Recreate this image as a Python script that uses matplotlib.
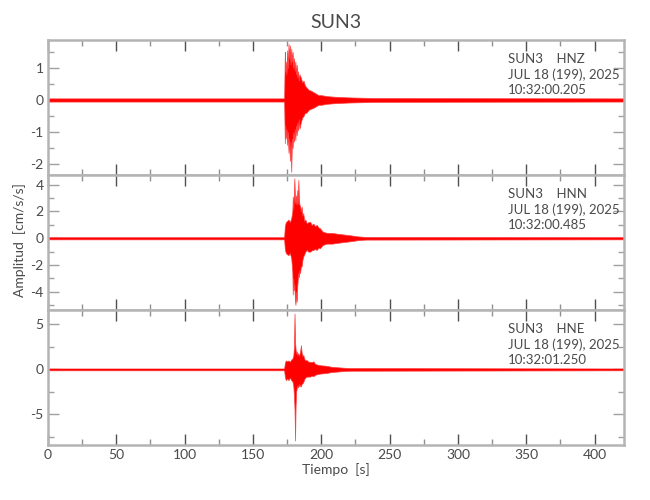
import matplotlib
matplotlib.use("Agg")
import matplotlib.pyplot as plt
from matplotlib.ticker import MultipleLocator
import numpy as np

plt.rcParams['font.family'] = ['Lato', 'DejaVu Sans']
plt.rcParams['axes.unicode_minus'] = False

# ---- data (envelopes) ----
channels = ["HNZ", "HNN", "HNE"]
start_times = ["10:32:00.205", "10:32:00.485", "10:32:01.250"]
station = "SUN3"
date_label = "JUL 18 (199), 2025"

t_hnz = [0, 172.8, 173.3, 173.6, 174.0, 174.5, 175.0, 175.5, 176.0, 176.5, 177.0, 177.5,
         178.0, 178.5, 179.0, 179.5, 180.0, 180.5, 181.0, 181.5, 182.0, 182.5, 183.0, 183.5,
         184.0, 185.0, 186.0, 187.0, 188.0, 189.0, 190.0, 191.0, 192.0, 194.0, 196.0, 198.0,
         200.0, 204.0, 210.0, 220.0, 240.0, 421]
up_hnz = [0.05, 0.05, 1.5, 0.9, 1.2, 0.8, 1.55, 1.0, 1.75, 1.3, 1.7, 1.1, 1.6, 1.2, 1.5, 1.0,
          1.3, 0.9, 1.2, 0.8, 1.1, 0.7, 0.9, 0.6, 0.8, 0.7, 0.55, 0.6, 0.45, 0.4, 0.35, 0.3,
          0.3, 0.25, 0.2, 0.15, 0.15, 0.12, 0.1, 0.08, 0.06, 0.05]
lo_hnz = [-0.05, -0.05, -1.35, -0.8, -1.2, -0.9, -1.4, -1.0, -1.65, -1.2, -1.9, -1.3, -2.24,
          -1.2, -1.5, -1.0, -1.3, -0.9, -1.25, -0.8, -1.1, -0.7, -0.95, -0.6, -0.9, -0.7, -0.55,
          -0.5, -0.4, -0.4, -0.35, -0.3, -0.28, -0.25, -0.2, -0.15, -0.15, -0.12, -0.1, -0.08,
          -0.06, -0.05]

t_hnn = [0, 172.8, 173.3, 174, 175, 176, 177, 178, 178.8, 179.1, 179.5, 180.0, 180.3, 180.7,
         181.1, 181.5, 182.0, 182.4, 182.8, 183.2, 183.6, 184.0, 184.5, 185.0, 185.6, 186.2,
         186.8, 187.5, 188.3, 189.3, 190.5, 191.7, 193.0, 194.2, 195.4, 196.6, 198.0, 199.0,
         201.0, 204.0, 208.0, 211.0, 215.0, 219.0, 223.0, 226.0, 232.0, 421]
up_hnn = [0.08, 0.08, 0.9, 1.2, 1.3, 1.4, 1.2, 1.5, 2.0, 3.1, 2.2, 3.5, 4.48, 3.0, 2.6, 3.2,
          2.5, 3.6, 2.6, 4.35, 3.0, 2.5, 2.4, 2.0, 2.36, 1.7, 1.87, 1.3, 1.4, 1.12, 1.2, 1.24,
          1.0, 1.1, 0.9, 1.0, 0.8, 0.75, 0.5, 0.4, 0.4, 0.35, 0.3, 0.25, 0.2, 0.15, 0.1, 0.08]
lo_hnn = [-0.08, -0.08, -0.8, -1.1, -1.2, -1.25, -1.1, -1.5, -2.5, -4.2, -3.0, -3.86, -3.5,
          -4.6, -4.97, -4.0, -4.73, -3.6, -3.0, -2.6, -2.9, -2.4, -2.6, -2.1, -2.1, -1.6,
          -1.37, -1.2, -1.0, -0.87, -1.0, -1.0, -0.9, -0.87, -0.8, -0.87, -0.7, -0.75, -0.5,
          -0.4, -0.4, -0.35, -0.3, -0.25, -0.2, -0.15, -0.1, -0.08]

t_hne = [0, 172.8, 173.3, 174, 175, 176, 177, 178, 178.8, 179.5, 180.0, 180.4, 180.8, 181.2,
         181.6, 182.0, 182.5, 183.0, 183.5, 184.0, 184.5, 185.1, 185.6, 186.2, 186.8, 187.5,
         188.3, 189.3, 190.5, 191.7, 193.0, 194.2, 195.5, 197.8, 200.0, 203.9, 207.0, 211.0,
         215.0, 220.0, 421]
up_hne = [0.1, 0.1, 0.7, 1.0, 0.9, 1.0, 0.85, 1.1, 1.2, 1.5, 2.5, 6.2, 3.0, 2.2, 1.8, 2.0,
          1.6, 1.8, 1.5, 1.7, 2.0, 2.7, 1.9, 1.5, 1.6, 1.2, 1.0, 1.04, 0.85, 0.85, 0.8, 0.9,
          0.6, 0.5, 0.45, 0.4, 0.3, 0.25, 0.2, 0.15, 0.1]
lo_hne = [-0.1, -0.1, -0.8, -1.2, -1.0, -1.2, -0.9, -1.2, -1.3, -1.8, -3.0, -4.5, -7.9, -4.0,
          -2.5, -2.1, -1.8, -2.0, -1.6, -1.9, -1.7, -1.9, -1.6, -1.55, -1.4, -1.1, -0.9, -0.8,
          -0.8, -0.8, -0.7, -0.75, -0.6, -0.5, -0.45, -0.4, -0.3, -0.25, -0.2, -0.15, -0.1]

traces = [(t_hnz, up_hnz, lo_hnz), (t_hnn, up_hnn, lo_hnn), (t_hne, up_hne, lo_hne)]
ylims = [(-2.34, 1.87), (-5.35, 4.72), (-8.4, 6.6)]
ymajor = [1, 2, 5]
yminor = [0.5, 1, 2.5]
xlim = (0, 421.5)

# ---- figure ----
fig = plt.figure(figsize=(6.5, 5.0), dpi=100)
left, right = 48 / 650, 624 / 650
tops_px = [40, 175, 310]
h_px = 135

spine_col = "#b4b4b4"
text_col = "#4a4a4a"

axes = []
for i, (t, up, lo) in enumerate(traces):
    bottom = 1 - (tops_px[i] + h_px) / 500
    ax = fig.add_axes([left, bottom, right - left, h_px / 500])
    axes.append(ax)
    ax.fill_between(t, lo, up, color="#ff0000", linewidth=0.5, edgecolor="#ff4040", zorder=2)
    ax.axhline(0, color="#ff0000", lw=0.8, zorder=2)
    ax.set_xlim(*xlim)
    ax.set_ylim(*ylims[i])
    ax.xaxis.set_major_locator(MultipleLocator(50))
    ax.xaxis.set_minor_locator(MultipleLocator(25))
    ax.yaxis.set_major_locator(MultipleLocator(ymajor[i]))
    ax.yaxis.set_minor_locator(MultipleLocator(yminor[i]))
    ax.tick_params(which="both", direction="in", top=True, right=True,
                   colors="#505050", labelcolor=text_col, labelsize=10, pad=3)
    ax.tick_params(which="major", length=8, width=1)
    ax.tick_params(which="minor", length=4, width=1, color="#909090")
    ax.tick_params(axis="y", which="both", color="#a0a0a0")
    for s in ax.spines.values():
        s.set_color(spine_col)
        s.set_linewidth(1.8)
    if i < 2:
        ax.tick_params(labelbottom=False)
    ax.text(0.7986, 0.905, f"{station}    {channels[i]}\n{date_label}\n{start_times[i]}",
            transform=ax.transAxes, ha="left", va="top", fontsize=9.5,
            color=text_col, linespacing=1.3)

fig.text((left + right) / 2, 1 - 22 / 500, station, ha="center", va="center",
         fontsize=14, color=text_col)
fig.text((left + right) / 2, 1 - 470 / 500, "Tiempo  [s]", ha="center", va="center",
         fontsize=10, color=text_col)
fig.text(20 / 650, 1 - 240 / 500, "Amplitud  [cm/s/s]", ha="center", va="center",
         rotation=90, fontsize=10, color=text_col)

fig.savefig("out.png", dpi=100)
